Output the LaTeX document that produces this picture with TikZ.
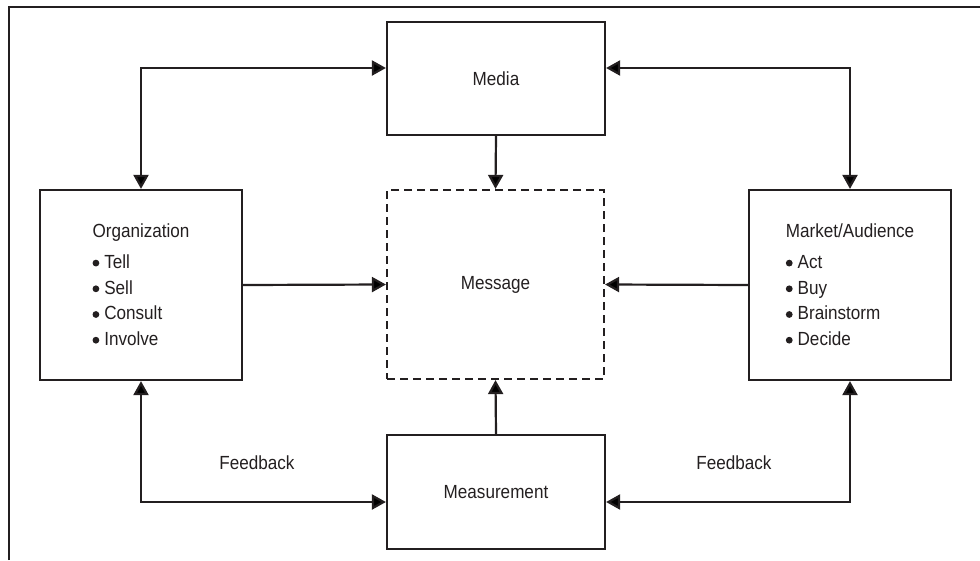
\documentclass[tikz,border=0pt]{standalone}
\usepackage{fontspec}
\setmainfont{Liberation Sans}[FakeStretch=0.9]
\usetikzlibrary{arrows.meta}
\definecolor{ink}{HTML}{231F20}
% round list bullet followed by a small gap
\newcommand\listdot{\tikz[baseline=-5.5pt]\fill[ink] (0pt,0pt) circle (3.4pt);\hspace{5pt}}
\begin{document}
\begin{tikzpicture}[x=1pt, y=-1pt,
  txt/.style={text=ink, font=\fontsize{19}{25.7}\selectfont},
  box/.style={txt, draw=ink, line width=2.2pt, inner sep=0pt, align=left},
  dashbox/.style={box, dash pattern=on 8pt off 5pt},
  link/.style={draw=ink, line width=2.2pt, -{Triangle[length=14pt,width=15pt]}},
  biway/.style={draw=ink, line width=2.2pt, {Triangle[length=14pt,width=15pt]}-{Triangle[length=14pt,width=15pt]}}
]
\useasboundingbox (0,0) rectangle (980,560);

% outer frame (top and left edges only)
\draw[ink, line width=2.8pt] (9,560) -- (9,7) -- (980,7);

% boxes
\node[box, minimum width=218pt, minimum height=113pt] (media) at (496,78.5) {Media};
\node[dashbox, minimum width=217pt, minimum height=189pt] (message) at (495.5,284.5) {Message};
\node[box, minimum width=202pt, minimum height=190pt] (org) at (141,285)
  {Organization\\[5pt]\listdot Tell\\\listdot Sell\\\listdot Consult\\\listdot Involve};
\node[box, minimum width=202pt, minimum height=190pt] (market) at (850,285)
  {Market/Audience\\[5pt]\listdot Act\\\listdot Buy\\\listdot Brainstorm\\\listdot Decide};
\node[box, minimum width=218pt, minimum height=114pt] (measure) at (496,492) {Measurement};

% feedback labels
\node[txt] (fbl) at (257,463) {Feedback};
\node[txt] (fbr) at (734,463) {Feedback};

% connectors
\draw[biway] (org.north) |- ([yshift=10.5pt]media.west);
\draw[biway] (market.north) |- ([yshift=10.5pt]media.east);
\draw[link] (media.south) -- (message.north);
\draw[link] (org.east) -- (message.west);
\draw[link] (market.west) -- (message.east);
\draw[link] (measure.north) -- (message.south);
\draw[biway] (org.south) |- ([yshift=-10pt]measure.west);
\draw[biway] (market.south) |- ([yshift=-10pt]measure.east);
\end{tikzpicture}
\end{document}
